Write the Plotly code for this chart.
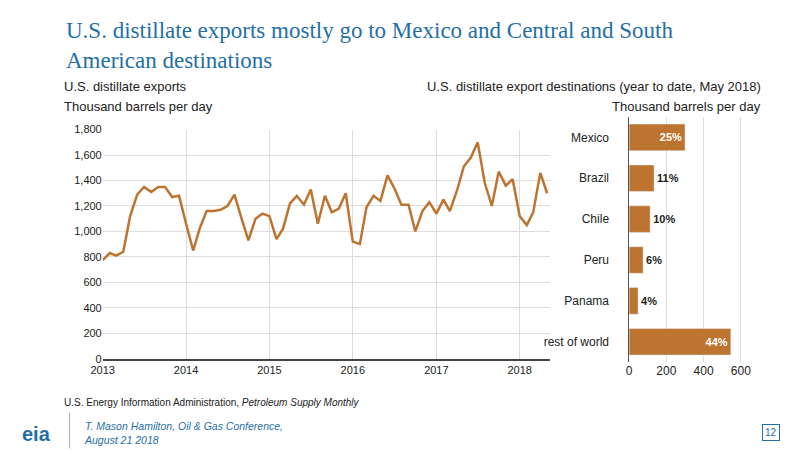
import pandas as pd
import plotly.graph_objs as go
from plotly.subplots import make_subplots

# monthly distillate exports, thousand b/d, Jan 2013 - May 2018
export_values = [775, 830, 810, 840, 1120, 1290, 1350, 1310, 1350, 1350, 1270, 1280,
                 1060, 850, 1020, 1160, 1160, 1170, 1200, 1290, 1100, 930, 1100, 1140,
                 1120, 940, 1020, 1220, 1280, 1210, 1330, 1060, 1280, 1150, 1180, 1300,
                 920, 900, 1190, 1280, 1240, 1440, 1340, 1210, 1210, 1000, 1160, 1230,
                 1140, 1250, 1160, 1320, 1510, 1580, 1700, 1380, 1200, 1470, 1360, 1410,
                 1120, 1050, 1150, 1460, 1300]
export_dates = pd.date_range("2013-01-01", periods=len(export_values), freq="MS")

destinations = ["Mexico", "Brazil", "Chile", "Peru", "Panama", "rest of world"]
destination_values = [300, 134, 113, 75, 48, 546]
destination_shares = ["25%", "11%", "10%", "6%", "4%", "44%"]

BROWN = "#BD7430"
BLUE = "#1F6FA8"
FONT = "Liberation Sans, Arial, sans-serif"

fig = make_subplots(rows=1, cols=2, horizontal_spacing=0.1)

fig.add_trace(go.Scatter(x=export_dates, y=export_values, mode="lines",
                         line=dict(color=BROWN, width=2.5), showlegend=False), 1, 1)

text_pos = ["inside" if v > 250 else "outside" for v in destination_values]
text_col = ["white" if v > 250 else "#222" for v in destination_values]
fig.add_trace(go.Bar(y=destinations, x=destination_values, orientation="h",
                     marker=dict(color=BROWN), width=0.65,
                     text=["<b>%s</b>" % s for s in destination_shares],
                     textposition=text_pos, insidetextanchor="end",
                     textfont=dict(color=text_col, size=11, family=FONT),
                     cliponaxis=False, showlegend=False), 1, 2)

fig.update_layout(
    width=800, height=450, margin=dict(l=0, r=0, t=0, b=0),
    plot_bgcolor="white", paper_bgcolor="white",
    font=dict(family=FONT, size=11, color="#222"),
    xaxis=dict(domain=[0.105, 0.673], type="date",
               range=["2013-01-01", "2018-05-15"],
               tickvals=pd.date_range("2013-01-01", periods=6, freq="YS"),
               tickformat="%Y", showgrid=True, gridcolor="#ddd",
               showline=True, linecolor="#444", linewidth=2, ticks=""),
    yaxis=dict(domain=[0.213, 0.736], range=[0, 1800], dtick=200,
               tickformat=",", gridcolor="#ddd", zeroline=False),
    xaxis2=dict(domain=[0.773, 0.929], range=[0, 660], tickvals=[0, 200, 400, 600],
                gridcolor="#ddd", zeroline=False, tickfont=dict(size=12)),
    yaxis2=dict(domain=[0.205, 0.765], autorange="reversed", showline=True,
                linecolor="#555", ticks="", ticksuffix="     ", tickfont=dict(size=12)),
    bargap=0.35,
)

annotations = [
    dict(x=0.056, y=0.996, text="U.S. distillate exports mostly go to Mexico and Central and South<br>American destinations",
         font=dict(family="Liberation Serif, Times New Roman, serif", size=23, color=BLUE), align="left"),
    dict(x=0.053, y=0.857, text="U.S. distillate exports", font=dict(size=13)),
    dict(x=0.053, y=0.811, text="Thousand barrels per day", font=dict(size=13)),
    dict(x=0.943, y=0.857, text="U.S. distillate export destinations (year to date, May 2018)",
         font=dict(size=13), xanchor="right"),
    dict(x=0.943, y=0.811, text="Thousand barrels per day", font=dict(size=13), xanchor="right"),
    dict(x=0.053, y=0.131, text="U.S. Energy Information Administration, <i>Petroleum Supply Monthly</i>",
         font=dict(size=10)),
    dict(x=0.0, y=0.042, text="<b>eia</b>", font=dict(size=20, color=BLUE), yanchor="middle"),
    dict(x=0.079, y=0.044, text="<i>T. Mason Hamilton, Oil & Gas Conference,<br>August 21 2018</i>",
         font=dict(size=10.5, color=BLUE), yanchor="middle", align="left"),
    dict(x=0.953, y=0.045, text="12", font=dict(size=10, color=BLUE), xanchor="center",
         yanchor="middle", bordercolor=BLUE, borderwidth=1, borderpad=2),
]
for a in annotations:
    a.setdefault("xanchor", "left")
    a.setdefault("yanchor", "top")
    fig.add_annotation(xref="paper", yref="paper", showarrow=False, **a)

fig.add_shape(type="line", xref="paper", yref="paper", x0=0.063, x1=0.063, y0=0.008, y1=0.09,
              line=dict(color="#aaa", width=1))

fig.write_html("out.html")
